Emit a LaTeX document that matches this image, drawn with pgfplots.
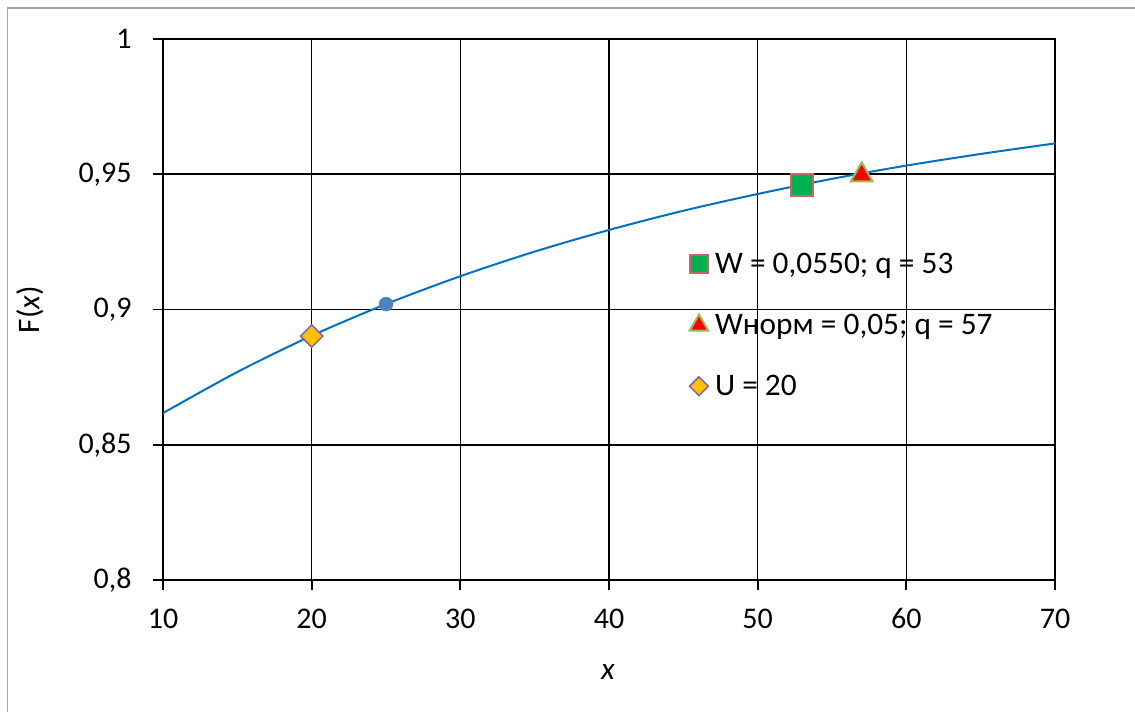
\documentclass[border=0pt]{standalone}
\usepackage{pgfplots}
\pgfplotsset{compat=1.18}
\usepackage{fontspec}
\setmainfont{Carlito}
\definecolor{curveblue}{RGB}{0,112,192}
\definecolor{dotblue}{RGB}{79,129,189}
\definecolor{sqgreen}{RGB}{0,176,80}
\definecolor{sqborder}{RGB}{205,100,100}
\definecolor{trired}{RGB}{255,0,0}
\definecolor{triborder}{RGB}{155,187,89}
\definecolor{diafill}{RGB}{255,192,0}
\definecolor{diaborder}{RGB}{128,100,162}
\definecolor{framegray}{RGB}{165,165,165}
\newcommand{\tickfont}{\fontsize{22.5}{27}\selectfont}
\newcommand{\lblfont}{\fontsize{23.5}{28}\selectfont}
\begin{document}
\begin{tikzpicture}
\path[use as bounding box] (0,0) rectangle (851.25pt,533.25pt);
\draw[framegray, line width=1.2pt] (5.6pt,-2pt) -- (5.6pt,527.25pt) -- (855pt,527.25pt);
\begin{axis}[
  at={(122.25pt,98.25pt)}, anchor=south west,
  scale only axis, width=669pt, height=405.75pt,
  xmin=10, xmax=70, ymin=0.8, ymax=1,
  xtick={10,20,...,70},
  ytick={0.8,0.85,0.9,0.95,1},
  yticklabels={{0,8},{0,85},{0,9},{0,95},1},
  xticklabels={10,20,30,40,50,60,70},
  grid=major,
  major grid style={black, line width=1.2pt},
  axis line style={black, line width=1.3pt},
  tick align=outside, major tick length=7.5pt,
  tick style={black, line width=1.3pt},
  xtick pos=bottom, ytick pos=left,
  tick label style={font=\tickfont},
  xticklabel style={yshift=-10.5pt},
  yticklabel style={xshift=-12.5pt},
  xlabel={\textit{x}}, ylabel={F(\textit{x})},
  label style={font=\lblfont},
  xlabel style={at={(axis description cs:0.499,-0.170)}, anchor=center},
  ylabel style={at={(axis description cs:-0.149,0.5)}, anchor=center},
  legend style={draw=none, fill=none, font=\lblfont,
    at={(axis description cs:0.59,0.471)}, anchor=west,
    row sep=25pt, column sep=3pt, inner sep=0pt},
  legend cell align=left,
]
\addplot[curveblue, line width=1.5pt, smooth, forget plot] coordinates {
(10,0.8617) (15,0.8769) (20,0.8903) (25,0.9020) (30,0.9123) (35,0.9214)
(40,0.9294) (45,0.9365) (50,0.9427) (55,0.9483) (60,0.9532) (65,0.9575) (70,0.9614)};
\addplot[only marks, mark=*, mark size=5.2pt, mark options={fill=dotblue, draw=dotblue}, forget plot] coordinates {(25,0.902)};
\addplot[only marks, mark=square*, mark size=8.2pt, mark options={fill=sqgreen, draw=sqborder, line width=1.5pt},
  legend image post style={mark size=6.6pt}] coordinates {(53,0.946)};
\addlegendentry{W = 0,0550; q = 53}
\addplot[only marks, mark=triangle*, mark size=9.5pt, mark options={fill=trired, draw=triborder, line width=1.5pt},
  legend image post style={mark size=8pt}] coordinates {(57,0.9497)};
\addlegendentry{Wнорм = 0,05; q = 57}
\addplot[only marks, mark=square*, mark size=5.9pt, mark options={fill=diafill, draw=diaborder, line width=1.1pt, rotate=45},
  legend image post style={mark size=5pt}] coordinates {(20,0.8902)};
\addlegendentry{U = 20}
\end{axis}
\end{tikzpicture}
\end{document}
